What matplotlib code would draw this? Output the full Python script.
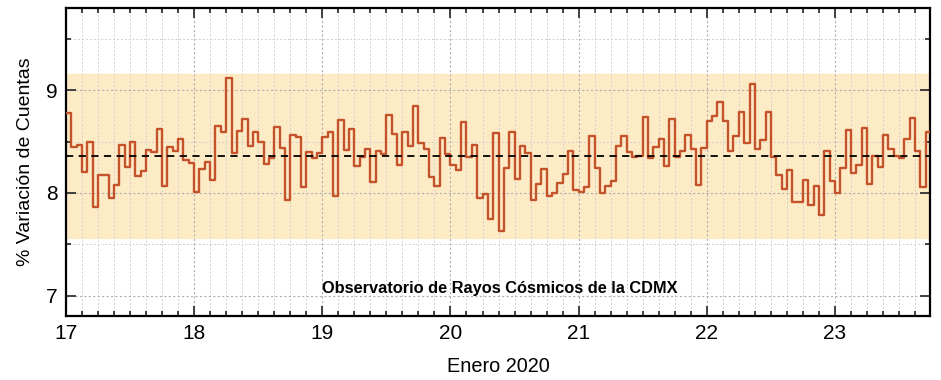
import matplotlib
matplotlib.use('Agg')
import matplotlib.pyplot as plt
from matplotlib.ticker import MultipleLocator
import numpy as np

plt.rcParams['font.family'] = ['Liberation Sans', 'DejaVu Sans']

## Hourly % count variation, 17 Jan 2020 00h onwards
variacion = [
    # dia 17
    8.78, 8.45, 8.47, 8.20, 8.50, 7.86, 8.17, 8.17, 7.95, 8.08, 8.47, 8.25,
    8.50, 8.16, 8.21, 8.42, 8.40, 8.62, 8.07, 8.45, 8.41, 8.52, 8.32, 8.29,
    # dia 18
    8.01, 8.23, 8.30, 8.13, 8.65, 8.59, 9.12, 8.39, 8.60, 8.72, 8.46, 8.59,
    8.50, 8.28, 8.34, 8.64, 8.44, 7.93, 8.56, 8.54, 8.06, 8.40, 8.34, 8.39,
    # dia 19
    8.54, 8.59, 7.97, 8.71, 8.42, 8.62, 8.26, 8.35, 8.43, 8.11, 8.41, 8.38,
    8.76, 8.57, 8.27, 8.59, 8.46, 8.85, 8.49, 8.43, 8.15, 8.07, 8.53, 8.38,
    # dia 20
    8.27, 8.22, 8.69, 8.35, 8.47, 7.95, 7.99, 7.75, 8.58, 7.63, 8.24, 8.59,
    8.14, 8.46, 8.39, 7.93, 8.09, 8.23, 7.97, 8.00, 8.10, 8.18, 8.41, 8.03,
    # dia 21
    8.01, 8.06, 8.55, 8.24, 8.00, 8.07, 8.12, 8.46, 8.55, 8.40, 8.35, 8.36,
    8.74, 8.34, 8.45, 8.52, 8.26, 8.72, 8.35, 8.41, 8.56, 8.43, 8.08, 8.44,
    # dia 22
    8.70, 8.75, 8.88, 8.70, 8.41, 8.55, 8.79, 8.49, 9.06, 8.43, 8.51, 8.79,
    8.35, 8.17, 8.04, 8.22, 7.91, 7.91, 8.13, 7.88, 8.07, 7.78, 8.41, 8.12,
    # dia 23
    8.00, 8.24, 8.61, 8.19, 8.27, 8.63, 8.09, 8.36, 8.25, 8.56, 8.43, 8.36,
    8.34, 8.52, 8.73, 8.41, 8.06, 8.59, 8.68,
]
dia_inicio = 17
promedio = 8.36
banda = 0.80
titulo = 'Observatorio de Rayos Cósmicos de la CDMX'

y = np.array(variacion)
x = dia_inicio + np.arange(len(y)) / 24.0
## repeat last value so the last hour is drawn as a full step
x_s = np.append(x, x[-1] + 1 / 24.0)
y_s = np.append(y, y[-1])

fig = plt.figure(figsize=(9.41, 3.80), dpi=100)
ax = fig.add_axes([0.0701, 0.168, 0.918, 0.811])

ax.axhspan(promedio - banda, promedio + banda, color='#fdebc6', zorder=0)
ax.step(x_s, y_s, where='post', color='#c4532b', lw=1.7, zorder=3)
ax.axhline(promedio, color='black', ls=(0, (4, 3)), lw=1.3, zorder=4)

ax.set_xlim(17, 23.74)
ax.set_ylim(6.8, 9.8)
ax.xaxis.set_major_locator(MultipleLocator(1))
ax.xaxis.set_minor_locator(MultipleLocator(0.125))
ax.yaxis.set_major_locator(MultipleLocator(1))
ax.yaxis.set_minor_locator(MultipleLocator(0.5))

ax.grid(which='major', color='#b0b0b0', ls=(0, (2, 2)), lw=0.8, zorder=1)
ax.grid(which='minor', color='#d0d0d0', ls=(0, (2, 2)), lw=0.7, zorder=1)
ax.set_axisbelow(True)

ax.tick_params(which='both', direction='in', top=True, right=True,
               labelsize=15, width=1.3, color='#333333')
ax.tick_params(which='major', length=7, pad=6)
ax.tick_params(which='minor', length=3.5)
for s in ax.spines.values():
    s.set_linewidth(1.6)

ax.set_xlabel('Enero 2020', fontsize=14.3, labelpad=10)
ax.set_ylabel('% Variación de Cuentas', fontsize=14, labelpad=9)
ax.text(0.502, 0.09, titulo, transform=ax.transAxes, ha='center', va='center',
        fontsize=11.8, fontweight='bold', zorder=5)

fig.savefig('out.png', dpi=100)
